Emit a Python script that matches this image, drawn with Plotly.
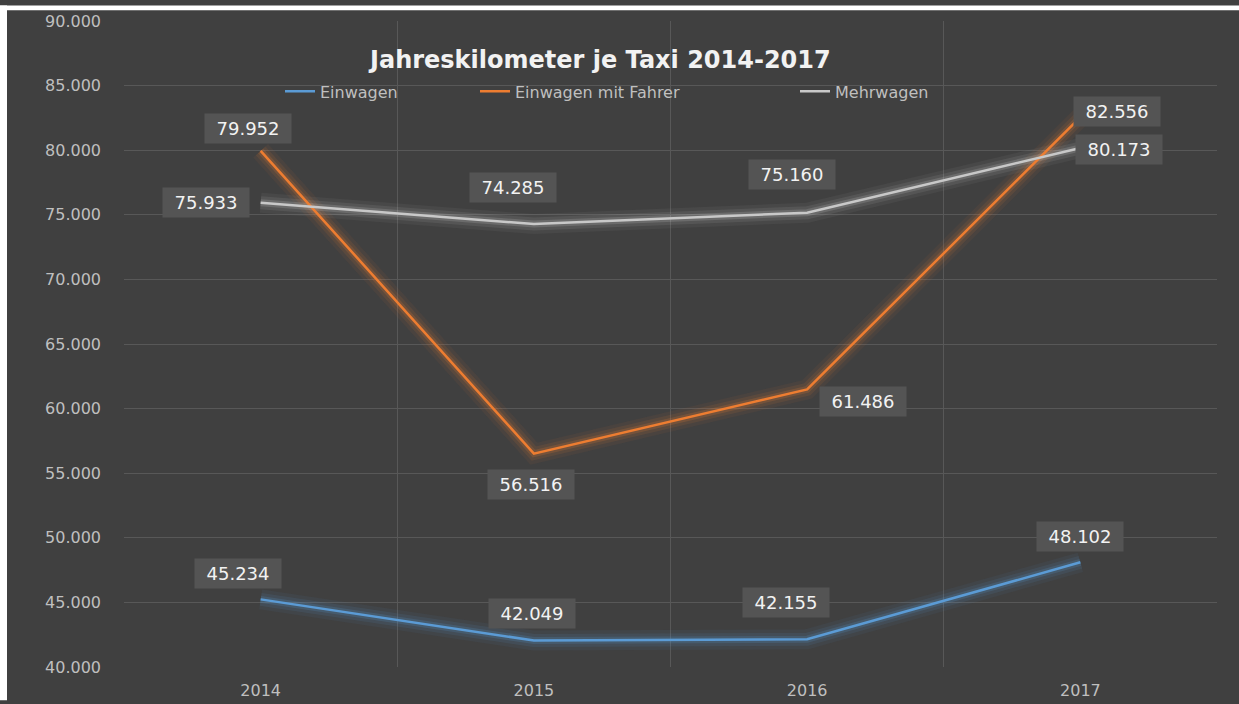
import plotly.graph_objects as go

years = ["2014", "2015", "2016", "2017"]
einwagen = [45234, 42049, 42155, 48102]
einwagen_fahrer = [79952, 56516, 61486, 82556]
mehrwagen = [75933, 74285, 75160, 80173]
series_names = ["Einwagen", "Einwagen mit Fahrer", "Mehrwagen"]
y_ticks = [40000, 45000, 50000, 55000, 60000, 65000, 70000, 75000, 80000, 85000, 90000]

FONT = "DejaVu Sans, Verdana, sans-serif"
colors = ["#5b9bd5", "#ed7d31", "#c8c8c8"]
glow = ["rgba(91,155,213,{a})", "rgba(237,125,49,{a})", "rgba(210,210,210,{a})"]
series = [einwagen, einwagen_fahrer, mehrwagen]
xs = list(range(len(years)))

SY = 0.987


def fy(ref_y):
    # map a vertical pixel position of the reference image to figure pixels
    return ref_y / SY


W, H = 1239, 712
ML, MR = 124, 22
MT = round(fy(16))
MB = round(H - fy(669))
PW, PH = W - ML - MR, H - MT - MB

# label offsets (pixels) per series/point
offsets = [
    [(-23, -26), (-2, -27), (-21, -36), (0, -25)],
    [(-13, -22), (-3, 30), (56, 12), (37, -6)],
    [(-55, 0), (-21, -36), (-15, -38), (39, 2)],
]
legend_x = [285, 480, 800]

fig = go.Figure()
for i, vals in enumerate(series):
    for w, a in [(20, 0.06), (13, 0.10), (7, 0.18)]:
        fig.add_trace(go.Scatter(x=xs, y=vals, mode="lines", showlegend=False,
                                 hoverinfo="skip",
                                 line=dict(color=glow[i].format(a=a), width=w)))
legend_ids = ["legend", "legend2", "legend3"]
for i, vals in enumerate(series):
    fig.add_trace(go.Scatter(x=xs, y=vals, mode="lines", name=series_names[i],
                             legend=legend_ids[i],
                             line=dict(color=colors[i], width=2.5)))

annotations = []
for i, vals in enumerate(series):
    for j, v in enumerate(vals):
        dx, dy = offsets[i][j]
        annotations.append(dict(
            x=xs[j], y=v, xref="x", yref="y",
            text=f"{v:,}".replace(",", "."),
            showarrow=False, xshift=dx, yshift=-dy / SY, width=78, align="center",
            font=dict(family=FONT, size=18, color="#f2f2f2"),
            bgcolor="#545454", borderpad=4))

annotations.append(dict(
    text="<b>Jahreskilometer je Taxi 2014-2017</b>", xref="paper", yref="paper",
    x=(599 - ML) / PW, y=(H - MB - fy(55)) / PH, xanchor="center", yanchor="middle",
    showarrow=False,
    font=dict(family=FONT, size=24, color="#f2f2f2")))

legend_common = dict(orientation="h", xanchor="left", yanchor="middle",
                     y=(H - MB - fy(87)) / PH, bgcolor="rgba(0,0,0,0)",
                     font=dict(family=FONT, size=16, color="#bfbfbf"))
layout_legends = {}
for i, lid in enumerate(legend_ids):
    layout_legends[lid] = dict(legend_common, x=(legend_x[i] - ML - 5) / PW)

fig.update_layout(
    width=W, height=H,
    margin=dict(l=ML, r=MR, t=MT, b=MB),
    paper_bgcolor="#404040", plot_bgcolor="#404040",
    separators=",.",
    font=dict(family=FONT, color="#bfbfbf", size=16),
    annotations=annotations,
    showlegend=True,
    shapes=[
        dict(type="rect", xref="paper", yref="paper", x0=-ML / PW, x1=(-ML + 7) / PW,
             y0=-MB / PH, y1=(PH + MT) / PH, fillcolor="white", line=dict(width=0), layer="above"),
        dict(type="rect", xref="paper", yref="paper", x0=-ML / PW, x1=(PW + MR) / PW,
             y0=(PH + MT - fy(5)) / PH, y1=(PH + MT) / PH, fillcolor="white", line=dict(width=0), layer="above"),
    ],
    **layout_legends,
)
fig.update_xaxes(range=[-0.5, 3.5], tickvals=xs, ticktext=years, showgrid=False,
                 zeroline=False, showline=False, ticks="", ticklabelstandoff=12,
                 tickfont=dict(family=FONT, size=16, color="#bfbfbf"),
                 ticklabeloverflow="allow",
                 minor=dict(tickvals=[-0.5, 0.5, 1.5, 2.5, 3.5], showgrid=True,
                            gridcolor="#585858", gridwidth=1))
fig.update_yaxes(range=[40000, 90000], tickvals=y_ticks, tickformat=",.0f",
                 showgrid=True, gridcolor="#585858", gridwidth=1, zeroline=False,
                 showline=False, ticks="", ticklabelstandoff=22,
                 ticklabeloverflow="allow",
                 tickfont=dict(family=FONT, size=16, color="#bfbfbf"))

post = (
    "document.documentElement.style.margin='0';"
    "document.body.style.margin='0';"
    "document.body.style.overflow='hidden';"
    "var g=document.querySelector('.plotly-graph-div');"
    "g.style.position='fixed';g.style.top='0px';g.style.left='0px';"
)
fig.write_html("out.html", config={"displayModeBar": False}, post_script=post)
